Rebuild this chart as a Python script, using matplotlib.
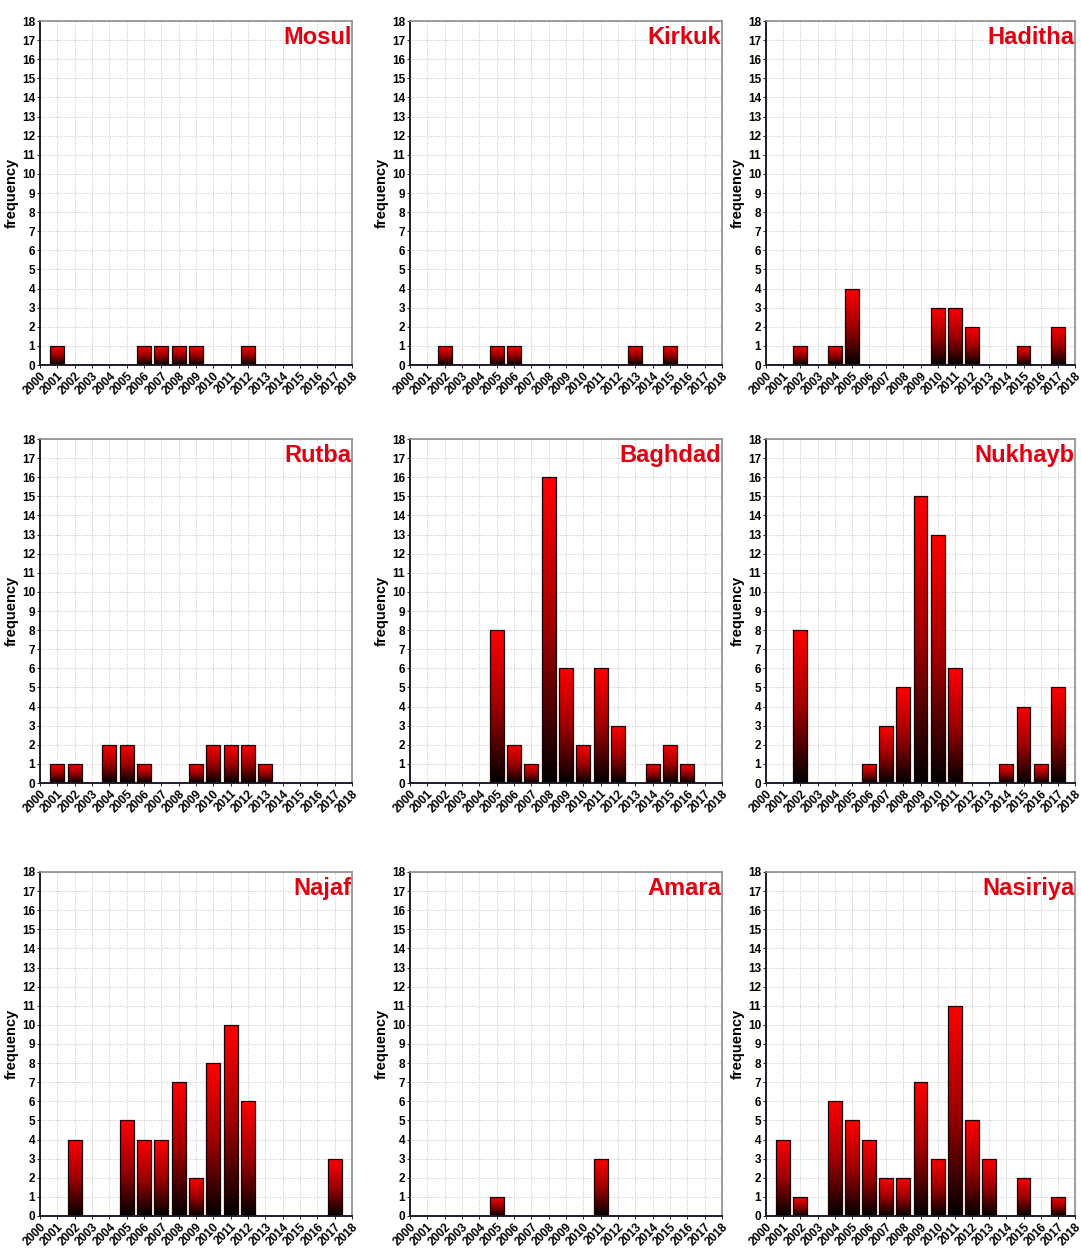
import numpy as np
import matplotlib.pyplot as plt
from matplotlib.colors import LinearSegmentedColormap

# station names and yearly frequencies (only years with events)
stations = ["Mosul", "Kirkuk", "Haditha",
            "Rutba", "Baghdad", "Nukhayb",
            "Najaf", "Amara", "Nasiriya"]

mosul_years = [2001, 2006, 2007, 2008, 2009, 2012]
mosul_freq = [1, 1, 1, 1, 1, 1]

kirkuk_years = [2002, 2005, 2006, 2013, 2015]
kirkuk_freq = [1, 1, 1, 1, 1]

haditha_years = [2002, 2004, 2005, 2010, 2011, 2012, 2015, 2017]
haditha_freq = [1, 1, 4, 3, 3, 2, 1, 2]

rutba_years = [2001, 2002, 2004, 2005, 2006, 2009, 2010, 2011, 2012, 2013]
rutba_freq = [1, 1, 2, 2, 1, 1, 2, 2, 2, 1]

baghdad_years = [2005, 2006, 2007, 2008, 2009, 2010, 2011, 2012, 2014, 2015, 2016]
baghdad_freq = [8, 2, 1, 16, 6, 2, 6, 3, 1, 2, 1]

nukhayb_years = [2002, 2006, 2007, 2008, 2009, 2010, 2011, 2014, 2015, 2016, 2017]
nukhayb_freq = [8, 1, 3, 5, 15, 13, 6, 1, 4, 1, 5]

najaf_years = [2002, 2005, 2006, 2007, 2008, 2009, 2010, 2011, 2012, 2017]
najaf_freq = [4, 5, 4, 4, 7, 2, 8, 10, 6, 3]

amara_years = [2005, 2011]
amara_freq = [1, 3]

nasiriya_years = [2001, 2002, 2004, 2005, 2006, 2007, 2008, 2009, 2010, 2011,
                  2012, 2013, 2015, 2017]
nasiriya_freq = [4, 1, 6, 5, 4, 2, 2, 7, 3, 11, 5, 3, 2, 1]

all_years = [mosul_years, kirkuk_years, haditha_years,
             rutba_years, baghdad_years, nukhayb_years,
             najaf_years, amara_years, nasiriya_years]
all_freq = [mosul_freq, kirkuk_freq, haditha_freq,
            rutba_freq, baghdad_freq, nukhayb_freq,
            najaf_freq, amara_freq, nasiriya_freq]

year_ticks = list(range(2000, 2019))
freq_ticks = list(range(0, 19))

font = ["Liberation Sans", "DejaVu Sans"]
cmap = LinearSegmentedColormap.from_list("blkred", ["#000000", "#a00000", "#ff0000"])
grad = np.linspace(0, 1, 256).reshape(-1, 1)

W, H = 1081, 1254
fig = plt.figure(figsize=(W / 100, H / 100), dpi=100)

col_left = [40, 410, 766]
col_width = [312, 312, 309]
row_top = [21, 439, 872]
ax_h = 344

for i, name in enumerate(stations):
    r, c = divmod(i, 3)
    left = col_left[c] / W
    bottom = 1 - (row_top[r] + ax_h) / H
    ax = fig.add_axes([left, bottom, col_width[c] / W, ax_h / H])

    bars = ax.bar(all_years[i], all_freq[i], width=0.8, facecolor="none",
                  edgecolor="#1a0000", linewidth=0.9, zorder=3)
    # black-to-red gradient inside every bar
    for p in bars:
        x0 = p.get_x()
        x1 = x0 + p.get_width()
        h = p.get_height()
        im = ax.imshow(grad, cmap=cmap, origin="lower", aspect="auto",
                       extent=[x0, x1, 0, h], zorder=2)
        im.set_clip_path(p)

    ax.set_xlim(2000, 2018)
    ax.set_ylim(0, 18)
    ax.set_aspect("auto")
    ax.set_xticks(year_ticks)
    ax.set_yticks(freq_ticks)
    ax.set_xticklabels([str(y) for y in year_ticks], rotation=45, ha="right",
                       rotation_mode="anchor", fontsize=8.5, fontweight="bold",
                       family=font)
    ax.set_yticklabels([str(v) for v in freq_ticks], fontsize=8.5,
                       fontweight="bold", family=font)
    ax.tick_params(length=2, width=0.6, pad=1.5)
    ax.grid(True, linestyle=":", color="#c4c4c4", linewidth=0.7, zorder=0)
    ax.set_axisbelow(True)

    for s in ["top", "right"]:
        ax.spines[s].set_color("#8c8c8c")
        ax.spines[s].set_linewidth(1.2)
    for s in ["left", "bottom"]:
        ax.spines[s].set_color("#1c1c2c")
        ax.spines[s].set_linewidth(1.4)

    ax.set_ylabel("frequency", fontsize=10.5, fontweight="bold",
                  family=font, labelpad=2)
    ax.text(0.998, 0.985, name, transform=ax.transAxes, ha="right", va="top",
            color="#e00010", fontsize=17, fontweight="bold", family=font,
            zorder=5)

fig.savefig("out.png", dpi=100)
